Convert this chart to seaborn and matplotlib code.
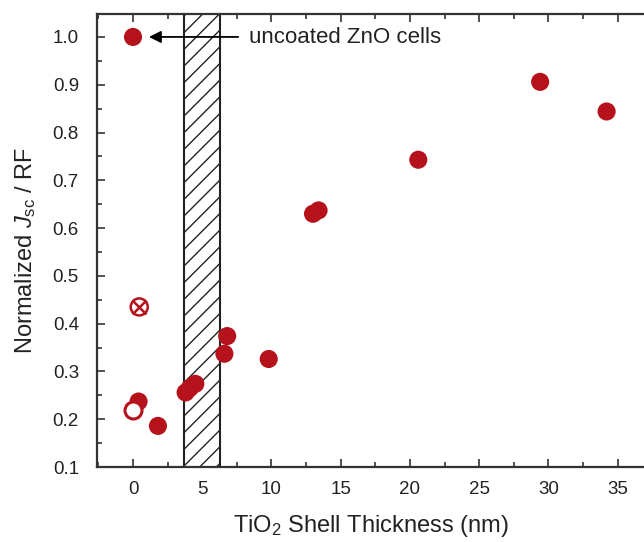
import numpy as np
import pandas as pd
import matplotlib
matplotlib.use("Agg")
import matplotlib.pyplot as plt
from matplotlib.patches import Rectangle
from matplotlib.ticker import MultipleLocator
import seaborn as sns

# Data
thickness = [0.0, 0.4, 1.8, 3.8, 4.1, 4.5, 6.6, 6.8, 9.8, 13.0, 13.4, 20.6, 29.4, 34.2]
norm_jsc = [1.0, 0.237, 0.186, 0.256, 0.265, 0.274, 0.337, 0.374, 0.326, 0.630, 0.637, 0.743, 0.906, 0.844]
open_x = [0.0]
open_y = [0.219]
crossed_x = [0.45]
crossed_y = [0.435]
band = [3.65, 6.25]
annot_text = "uncoated ZnO cells"

red = "#B5121B"

sns.set_theme(style="white")
plt.rcParams['font.family'] = ['Liberation Sans', 'DejaVu Sans']
plt.rcParams['mathtext.fontset'] = 'custom'
plt.rcParams['mathtext.rm'] = 'Liberation Sans'
plt.rcParams['mathtext.it'] = 'Liberation Sans:italic'
plt.rcParams['hatch.linewidth'] = 1.0

fig = plt.figure(figsize=(6.44, 5.42), dpi=100)
ax = fig.add_axes([97/644, 75/542, 1 - 97/644, (467-14)/542])

df = pd.DataFrame({"x": thickness, "y": norm_jsc})
ax.add_patch(Rectangle((band[0], 0), band[1]-band[0], 2, facecolor='white',
                       edgecolor='#222222', hatch='//', linewidth=1.5, zorder=1))
sns.scatterplot(data=df, x="x", y="y", ax=ax, color=red, s=170, edgecolor='none', zorder=3)
ax.scatter(open_x, open_y, s=150, facecolor='white', edgecolor=red, linewidth=2.2, zorder=3)
ax.scatter(crossed_x, crossed_y, s=150, facecolor='none', edgecolor=red, linewidth=1.8, zorder=3)
ax.scatter(crossed_x, crossed_y, s=100, marker='x', color=red, linewidth=1.8, zorder=3)

ax.annotate("", xy=(0.95, 1.0), xytext=(7.8, 1.0),
            arrowprops=dict(arrowstyle='-|>', color='black', lw=1.3, mutation_scale=18))
ax.text(8.4, 0.999, annot_text, fontsize=16, va='center', ha='left', color='#222222')

ax.set_xlim(-2.6, 36.9)
ax.xaxis.set_major_locator(MultipleLocator(5))
ax.xaxis.set_minor_locator(MultipleLocator(2.5))
ax.yaxis.set_minor_locator(MultipleLocator(0.05))
ax.set_yticks(np.arange(0.1, 1.01, 0.1))
ax.set_yticklabels([f"{v:.1f}" for v in np.arange(0.1, 1.01, 0.1)])
ax.set_ylim(0.1, 1.048)

ax.tick_params(which='both', direction='in', top=True, right=False, bottom=True, left=True,
               colors='#333333', labelcolor='#222222', width=1.2)
ax.tick_params(which='major', length=6, labelsize=13.5)
ax.tick_params(axis='y', which='major', pad=13)
ax.tick_params(axis='x', which='major', pad=10)
ax.tick_params(which='minor', length=3.5)

for side in ['left', 'bottom', 'top']:
    ax.spines[side].set_color('#333333')
    ax.spines[side].set_linewidth(1.6)
ax.spines['right'].set_visible(False)

ax.set_xlabel(r"TiO$_2$ Shell Thickness (nm)", fontsize=17, color='#222222', labelpad=11)
ax.set_ylabel(r"Normalized $J_{\mathrm{sc}}$ / RF", fontsize=17, color='#222222')
ax.yaxis.set_label_coords(-0.107, 0.478)

fig.savefig("out.png", dpi=100)
